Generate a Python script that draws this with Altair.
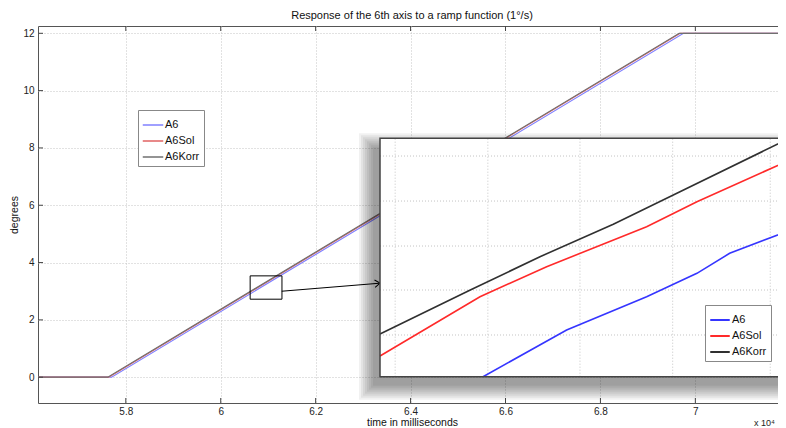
import altair as alt
import pandas as pd

# ---------------- data ----------------
series_names = ["A6", "A6Sol", "A6Korr"]

# main view (time in 10^4 ms, degrees)
a6_t = [5.615, 5.770, 6.975, 7.191]
a6_v = [0, 0, 12, 12]
sol_t = [5.615, 5.764, 6.968, 7.191]
sol_v = [0, 0, 12, 12]
korr_t = [5.615, 5.762, 6.966, 7.191]
korr_v = [0, 0, 12, 12]

# zoomed inset
inset_a6_t = [6.0790, 6.0928, 6.1060, 6.1143, 6.1197, 6.1290]
inset_a6_v = [2.722, 2.8814, 2.9951, 3.0750, 3.1433, 3.2170]
inset_sol_t = [6.0620, 6.0785, 6.0895, 6.1060, 6.1143, 6.1290]
inset_sol_v = [2.7927, 2.9951, 3.0975, 3.2341, 3.3195, 3.4560]
inset_korr_t = [6.0620, 6.0769, 6.0884, 6.1005, 6.1115, 6.1290]
inset_korr_v = [2.8678, 3.0180, 3.1317, 3.2423, 3.3536, 3.5301]

x_ticks = [5.8, 6.0, 6.2, 6.4, 6.6, 6.8, 7.0]
y_ticks = [0, 2, 4, 6, 8, 10, 12]
x_domain = [5.615, 7.191]
y_domain = [-0.9, 12.255]
zoom_x = [6.062, 6.129]
zoom_y = [2.722, 3.536]
inset_x_grid = [6.0645, 6.0798, 6.0950, 6.1103, 6.1264]
inset_y_grid = [2.8644, 3.018, 3.1682, 3.3218, 3.4755]
arrow_t = [6.1286, 6.3357]
arrow_v = [3.0, 3.281]

main_colors = ["#8080ff", "#e06262", "#707070"]
inset_colors = ["#3535ff", "#ff2a2a", "#303030"]

W, H = 748, 377
FONT = "Liberation Sans"

# ---------------- tables ----------------
def long(ts, vs, name, tcol="t", vcol="v"):
    return pd.DataFrame({tcol: ts, vcol: vs, "series": name})

main_df = pd.concat([long(a6_t, a6_v, "A6"), long(sol_t, sol_v, "A6Sol"),
                     long(korr_t, korr_v, "A6Korr")])
inset_df = pd.concat([long(inset_a6_t, inset_a6_v, "A6"),
                      long(inset_sol_t, inset_sol_v, "A6Sol"),
                      long(inset_korr_t, inset_korr_v, "A6Korr")])
box_df = pd.DataFrame({"x0": [zoom_x[0]], "x1": [zoom_x[1]],
                       "y0": [zoom_y[0]], "y1": [zoom_y[1]]})
arrow_df = pd.DataFrame({"t": arrow_t, "v": arrow_v})
xt_df = pd.DataFrame({"t": x_ticks})
yt_df = pd.DataFrame({"v": y_ticks})
ivg_df = pd.DataFrame({"g": inset_x_grid, "y0": zoom_y[0], "y1": zoom_y[1]})
ihg_df = pd.DataFrame({"g": inset_y_grid, "x0": zoom_x[0], "x1": zoom_x[1]})

# ---------------- main scales/axes ----------------
mx_scale = alt.Scale(domain=x_domain, nice=False, zero=False)
my_scale = alt.Scale(domain=y_domain, nice=False, zero=False)
mx_axis = alt.Axis(values=x_ticks, title="time in milliseconds", format="~g",
                   grid=True, ticks=False, domain=False, labelPadding=3,
                   titleY=22, titleBaseline="alphabetic")
my_axis = alt.Axis(values=y_ticks, title="degrees", grid=True, ticks=False,
                   domain=False, labelPadding=4, titlePadding=3)

def MX(f):
    return alt.X(f, type="quantitative", scale=mx_scale, axis=mx_axis)

def MY(f):
    return alt.Y(f, type="quantitative", scale=my_scale, axis=my_axis)

main_lines = alt.Chart(main_df).mark_line(strokeWidth=1.2, clip=True).encode(
    x=MX("t"), y=MY("v"),
    color=alt.Color("series:N", scale=alt.Scale(domain=series_names, range=main_colors),
                    legend=alt.Legend(title=None, orient="none", legendX=100, legendY=84,
                                      fillColor="white", strokeColor="#888888",
                                      padding=4, labelFontSize=11, symbolSize=420,
                                      symbolStrokeWidth=1.5, rowPadding=0,
                                      labelOffset=1)),
)

tick_bottom = alt.Chart(xt_df).mark_rule(color="#444", strokeWidth=1).encode(
    x=MX("t"), y=alt.value(H), y2=alt.value(H - 5))
tick_top = alt.Chart(xt_df).mark_rule(color="#444", strokeWidth=1).encode(
    x=MX("t"), y=alt.value(0), y2=alt.value(5))
tick_left = alt.Chart(yt_df).mark_rule(color="#444", strokeWidth=1).encode(
    y=MY("v"), x=alt.value(0), x2=alt.value(5))
tick_right = alt.Chart(yt_df).mark_rule(color="#444", strokeWidth=1).encode(
    y=MY("v"), x=alt.value(W), x2=alt.value(W - 5))

zoom_box = alt.Chart(box_df).mark_rect(fillOpacity=0, stroke="black", strokeWidth=1).encode(
    x=MX("x0"), x2="x1", y=MY("y0"), y2="y1")

arrow_line = alt.Chart(arrow_df).mark_line(color="black", strokeWidth=1).encode(
    x=MX("t"), y=MY("v"))
arrow_head = alt.Chart(arrow_df.tail(1)).mark_point(
    shape="M-1,-0.7L0,0L-1,0.7", filled=False, color="black", strokeWidth=1,
    size=110, angle=355, opacity=1).encode(x=MX("t"), y=MY("v"))

exp_text = alt.Chart(pd.DataFrame({"s": ["x 10⁴"]})).mark_text(
    align="right", baseline="alphabetic", fontSize=9, color="#222").encode(
    text="s:N", x=alt.value(737), y=alt.value(H + 23))

main = alt.layer(main_lines, tick_bottom, tick_top, tick_left, tick_right,
                 zoom_box, arrow_line, arrow_head, exp_text)

# ---------------- inset ----------------
ix_scale = alt.Scale(domain=zoom_x, range=[342, W], nice=False, zero=False)
iy_scale = alt.Scale(domain=zoom_y, range=[350.7, 112.3], nice=False, zero=False)

def IX(f):
    return alt.X(f, type="quantitative", scale=ix_scale, axis=None)

def IY(f):
    return alt.Y(f, type="quantitative", scale=iy_scale, axis=None)

shadows = []
for k in range(8):
    shadows.append(alt.Chart(box_df).mark_rect(
        color="black", opacity=0.055,
        xOffset=-7 - 2 * k, x2Offset=-7 + 2 * k,
        yOffset=9 + 2 * k, y2Offset=9 - 2 * k).encode(
        x=IX("x0"), x2="x1", y=IY("y0"), y2="y1"))

inset_bg = alt.Chart(box_df).mark_rect(color="white").encode(
    x=IX("x0"), x2="x1", y=IY("y0"), y2="y1")
inset_vgrid = alt.Chart(ivg_df).mark_rule(color="#c4c4c4", strokeDash=[1, 2]).encode(
    x=IX("g"), y=IY("y0"), y2="y1")
inset_hgrid = alt.Chart(ihg_df).mark_rule(color="#c4c4c4", strokeDash=[1, 2]).encode(
    y=IY("g"), x=IX("x0"), x2="x1")
inset_lines = alt.Chart(inset_df).mark_line(strokeWidth=1.6).encode(
    x=IX("t"), y=IY("v"),
    color=alt.Color("series:N", scale=alt.Scale(domain=series_names, range=inset_colors),
                    legend=alt.Legend(title=None, orient="none", legendX=667, legendY=279,
                                      fillColor="white", strokeColor="#888888",
                                      padding=4, labelFontSize=11, symbolSize=380,
                                      symbolStrokeWidth=2, rowPadding=0,
                                      labelOffset=1)),
)
inset_border = alt.Chart(box_df).mark_rect(fillOpacity=0, stroke="#444", strokeWidth=1.5).encode(
    x=IX("x0"), x2="x1", y=IY("y0"), y2="y1")

inset = alt.layer(*shadows, inset_bg, inset_vgrid, inset_hgrid, inset_lines, inset_border)

chart = alt.layer(main, inset).resolve_scale(
    x="independent", y="independent", color="independent"
).properties(
    width=W, height=H,
    padding={"left": 30, "top": 18, "right": -8, "bottom": 25},
    autosize=alt.AutoSizeParams(type="none"),
    title=alt.TitleParams("Response of the 6th axis to a ramp function (1°/s)",
                          fontSize=11, fontWeight="normal", offset=5, anchor="middle",
                          color="#111"),
).configure(font=FONT).configure_view(stroke="#555", strokeWidth=1).configure_axis(
    labelFontSize=10, labelColor="#222", titleFontSize=10.5, titleFontWeight="normal",
    titleColor="#111", gridColor="#c4c4c4", gridDash=[1, 2], gridWidth=1,
).configure_legend(labelColor="#111", labelFont=FONT)

chart.save("out.html", embed_options={"renderer": "svg", "actions": False})
